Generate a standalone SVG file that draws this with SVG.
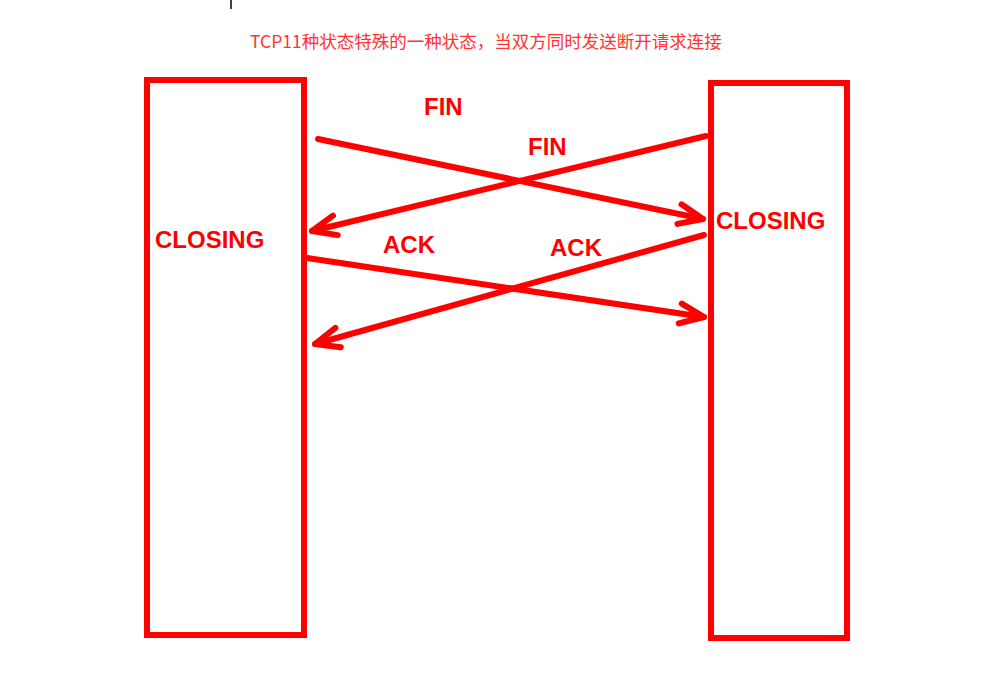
<svg xmlns="http://www.w3.org/2000/svg" width="989" height="687" viewBox="0 0 989 687">
<defs>
<style>
.box{fill:none;stroke:#ff0000;stroke-width:6}
.ln{stroke:#ff0000;stroke-width:6;stroke-linecap:round;fill:none;marker-end:url(#ah)}
.lbl{font-family:"Liberation Sans",Arial,sans-serif;font-weight:bold;font-size:24px;fill:#ff0000}
</style>
<marker id="ah" markerUnits="userSpaceOnUse" viewBox="-30 -14 34 28" refX="0" refY="0" markerWidth="34" markerHeight="28" orient="auto">
<path d="M-24,-10 L0,0 L-24,10" fill="none" stroke="#ff0000" stroke-width="6" stroke-linecap="round" stroke-linejoin="round"/>
</marker>
</defs>
<rect width="989" height="687" fill="#fff"/>
<line x1="231" y1="0" x2="231" y2="9" stroke="#000" stroke-width="1.5"/>
<text x="250" y="48" font-family="'Noto Sans CJK SC',sans-serif" font-size="17.5" fill="#ff3333">TCP11种状态特殊的一种状态，当双方同时发送断开请求连接</text>
<g id="left"><rect class="box" x="147" y="80" width="157" height="555"/><text class="lbl" x="155" y="248">CLOSING</text></g>
<g id="right"><rect class="box" x="711" y="83" width="136" height="555"/><text class="lbl" x="716" y="229">CLOSING</text></g>
<g id="connectors">
<line class="ln" x1="318" y1="139" x2="703" y2="219"/>
<line class="ln" x1="706" y1="136" x2="312" y2="231"/>
<line class="ln" x1="307" y1="258" x2="704" y2="317"/>
<line class="ln" x1="704" y1="235" x2="315" y2="344"/>
</g>
<g class="lbl"><text x="424" y="115">FIN</text><text x="528" y="155">FIN</text><text x="383" y="253">ACK</text><text x="550" y="256">ACK</text></g>
</svg>
